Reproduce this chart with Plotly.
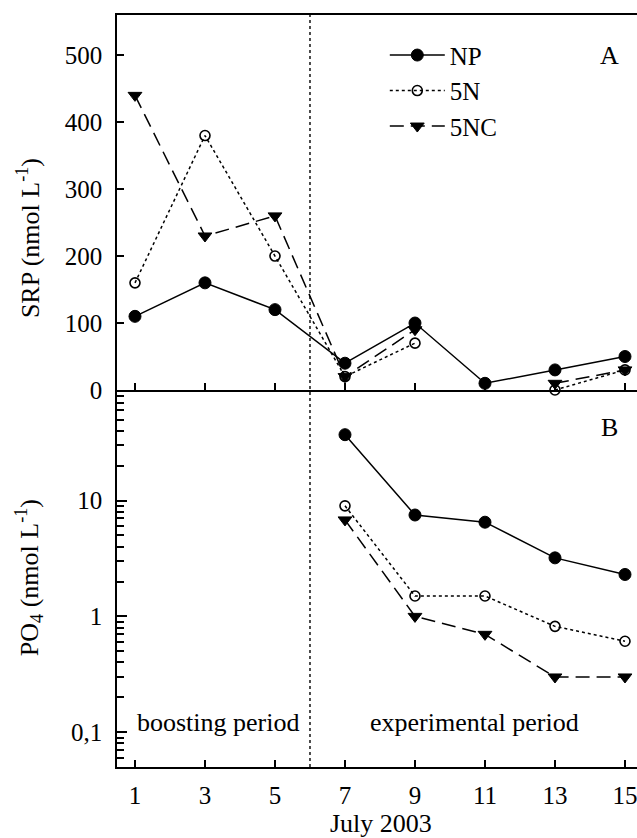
import math
import plotly.graph_objects as go
from plotly.subplots import make_subplots

# ---------------- data ----------------
days = [1, 3, 5, 7, 9, 11, 13, 15]
srp_np = [110, 160, 120, 40, 100, 10, 30, 50]
srp_5n = [160, 380, 200, 20, 70, None, 0, 30]
srp_5nc = [440, 230, 260, 20, 90, None, 10, 30]

po4_days = [7, 9, 11, 13, 15]
po4_np = [37, 7.5, 6.5, 3.2, 2.3]
po4_5n = [9.0, 1.5, 1.5, 0.82, 0.61]
po4_5nc = [6.8, 1.0, 0.70, 0.30, 0.30]

series_names = ["NP", "5N", "5NC"]
x_ticks = [1, 3, 5, 7, 9, 11, 13, 15]
srp_ticks = [0, 100, 200, 300, 400, 500]
po4_ticks = [0.1, 1, 10]
po4_ticktext = ["0,1", "1", "10"]
po4_minor = [0.06, 0.07, 0.08, 0.09, 0.2, 0.3, 0.4, 0.5, 0.6, 0.7, 0.8, 0.9,
             2, 3, 4, 5, 6, 7, 8, 9, 20, 30, 40, 50, 60, 70, 80]
boundary_day = 6

FONT = "Liberation Serif, DejaVu Serif, serif"
FS = 26      # titles / annotations
FS_TICK = 25
FS_LEG = 25

styles = {
    "NP": dict(line=dict(color="black", width=1.5, dash="solid"),
               marker=dict(symbol="circle", size=12, color="black",
                           line=dict(color="black", width=1))),
    "5N": dict(line=dict(color="black", width=1.5, dash="dot"),
               marker=dict(symbol="circle-open", size=10, color="black",
                           line=dict(color="black", width=1.6))),
    "5NC": dict(line=dict(color="black", width=1.5, dash="14px,7px"),
                marker=dict(symbol="triangle-down", size=12, color="black",
                            line=dict(color="black", width=1))),
}

fig = make_subplots(rows=2, cols=1, shared_xaxes=True, vertical_spacing=0,
                    row_heights=[375, 377])

for name, ys in zip(series_names, [srp_np, srp_5n, srp_5nc]):
    fig.add_trace(go.Scatter(x=days, y=ys, mode="lines+markers", name=name,
                             cliponaxis=False, showlegend=True,
                             **styles[name]), row=1, col=1)

for name, ys in zip(series_names, [po4_np, po4_5n, po4_5nc]):
    fig.add_trace(go.Scatter(x=po4_days, y=ys, mode="lines+markers", name=name,
                             cliponaxis=False, showlegend=False,
                             **styles[name]), row=2, col=1)

axis_common = dict(showline=True, linecolor="black", linewidth=1.5,
                   ticks="inside", tickcolor="black", tickwidth=1.5,
                   showgrid=False, zeroline=False, automargin=False,
                   tickfont=dict(family=FONT, size=FS_TICK, color="black"))

fig.update_xaxes(range=[0.486, 15.343], tickvals=x_ticks, ticklen=7,
                 **axis_common)
fig.update_xaxes(showticklabels=False, mirror=True, row=1, col=1)
fig.update_xaxes(showticklabels=True, mirror=False, ticklabelstandoff=5,
                 ticklabeloverflow="allow", row=2, col=1)

fig.update_yaxes(range=[0, 560], tickvals=srp_ticks, ticklen=7,
                 ticklabelstandoff=8, row=1, col=1, **axis_common)
fig.update_yaxes(type="log", range=[-1.30, 1.954], tickvals=po4_ticks,
                 ticktext=po4_ticktext, ticklen=10, ticklabelstandoff=8,
                 minor=dict(tickvals=po4_minor, ticks="inside", ticklen=7,
                            tickwidth=1.5, tickcolor="black"),
                 row=2, col=1, **axis_common)

fig.add_shape(type="line", xref="x", yref="paper", x0=boundary_day,
              x1=boundary_day, y0=0, y1=1,
              line=dict(color="black", width=1.4, dash="dot"))

tf = dict(family=FONT, size=FS, color="black")
ann = [
    dict(text="A", x=0.948, y=0.9455),
    dict(text="B", x=0.948, y=0.4508),
    dict(text="SRP (nmol L<sup>-1</sup>)", x=-0.169, y=0.7035, textangle=-90),
    dict(text="PO<sub>4</sub> (nmol L<sup>-1</sup>)", x=-0.169, y=0.2513,
         textangle=-90),
    dict(text="July 2003", x=0.5077, y=-0.0745),
]
for a in ann:
    fig.add_annotation(xref="paper", yref="paper", showarrow=False,
                       xanchor="center", yanchor="middle", font=tf, **a)

fig.add_annotation(xref="x2", yref="y2", x=3.39, y=math.log10(0.122),
                   text="boosting period", showarrow=False, font=tf,
                   xanchor="center", yanchor="middle")
fig.add_annotation(xref="x2", yref="y2", x=10.69, y=math.log10(0.122),
                   text="experimental period", showarrow=False, font=tf,
                   xanchor="center", yanchor="middle")

fig.update_layout(
    width=637, height=838,
    margin=dict(l=117, r=0, t=15, b=71, autoexpand=False),
    paper_bgcolor="white", plot_bgcolor="white",
    font=dict(family=FONT, size=FS, color="black"),
    legend=dict(x=0.515, y=0.977, xanchor="left", yanchor="top",
                bgcolor="rgba(0,0,0,0)", font=dict(family=FONT, size=FS_LEG),
                itemwidth=55, tracegroupgap=0),
)

fig.write_html("out.html",
               config={"displayModeBar": False},
               post_script="document.body.style.margin='0px';"
                           "document.body.style.overflow='hidden';")
